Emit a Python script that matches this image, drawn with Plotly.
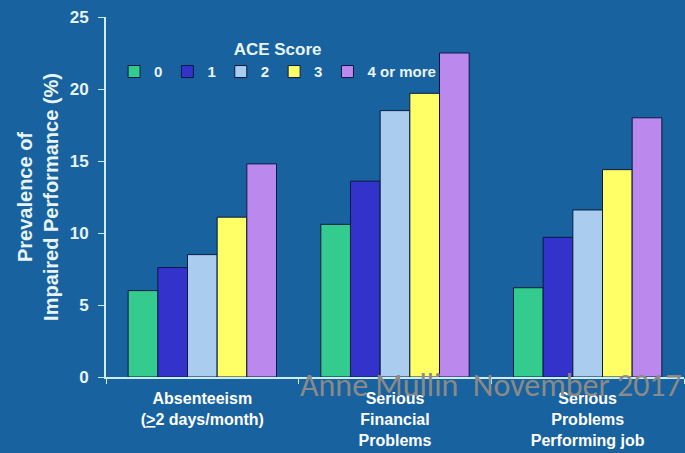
import plotly.graph_objects as go

categories = ["Absenteeism<br>(<u>></u>2 days/month)", "Serious<br>Financial<br>Problems", "Serious<br>Problems<br>Performing job"]
series_names = ["0", "1", "2", "3", "4 or more"]
values = {
    "0": [6.0, 10.6, 6.2],
    "1": [7.6, 13.6, 9.7],
    "2": [8.5, 18.5, 11.6],
    "3": [11.1, 19.7, 14.4],
    "4 or more": [14.8, 22.5, 18.0],
}
y_ticks = [0, 5, 10, 15, 20, 25]
colors = ["#33CC8E", "#3333CC", "#AACCEE", "#FFFF66", "#BB88EE"]

BG = "#1862A0"
AX = "#CCEEEE"
TXT = "#E8F4F4"

fig = go.Figure()
for name, c in zip(series_names, colors):
    fig.add_trace(go.Bar(
        x=categories, y=values[name], name=name,
        marker=dict(color=c, line=dict(color="#0A1A40", width=1)),
    ))

fig.update_layout(
    width=685, height=453,
    paper_bgcolor=BG, plot_bgcolor=BG,
    margin=dict(l=106, r=1, t=17, b=76),
    barmode="group", bargap=0.23, bargroupgap=0,
    font=dict(family="Liberation Sans, Arial", color="white"),
    showlegend=True,
    legend=dict(
        orientation="h", x=0.014, y=0.955, xanchor="left", yanchor="top",
        bgcolor="rgba(0,0,0,0)",
        font=dict(size=15, color=TXT, family="Liberation Sans, Arial", weight="bold"),
        title=dict(text="ACE Score", side="top center",
                   font=dict(size=17, color=TXT, weight="bold")),
        itemwidth=30, tracegroupgap=0,
    ),
    xaxis=dict(
        showline=True, linecolor=AX, linewidth=2,
        ticks="outside", tickson="boundaries", ticklen=5, tickcolor=AX,
        tickfont=dict(size=16, color="white", family="Liberation Sans Narrow, Liberation Sans", weight="bold"),
        ticklabelstandoff=6,
        showgrid=False,
    ),
    yaxis=dict(
        range=[0, 25], tickvals=y_ticks,
        showline=True, linecolor=AX, linewidth=2,
        ticks="outside", ticklen=6, tickcolor=AX,
        tickfont=dict(size=17, color=TXT, weight="bold"),
        ticklabelstandoff=6,
        showgrid=False, zeroline=False,
        title=dict(text="Prevalence of<br>Impaired Performance (%)",
                   font=dict(size=20, color=TXT, weight="bold"), standoff=6),
    ),
)

fig.add_annotation(
    text="Anne Mullin  November 2017", xref="paper", yref="paper",
    x=1.0, y=0.035, xanchor="right", yanchor="top", showarrow=False,
    font=dict(size=32, color="#8C8A86", family="Carlito, Open Sans, Liberation Sans"),
)

fig.write_html("out.html")
